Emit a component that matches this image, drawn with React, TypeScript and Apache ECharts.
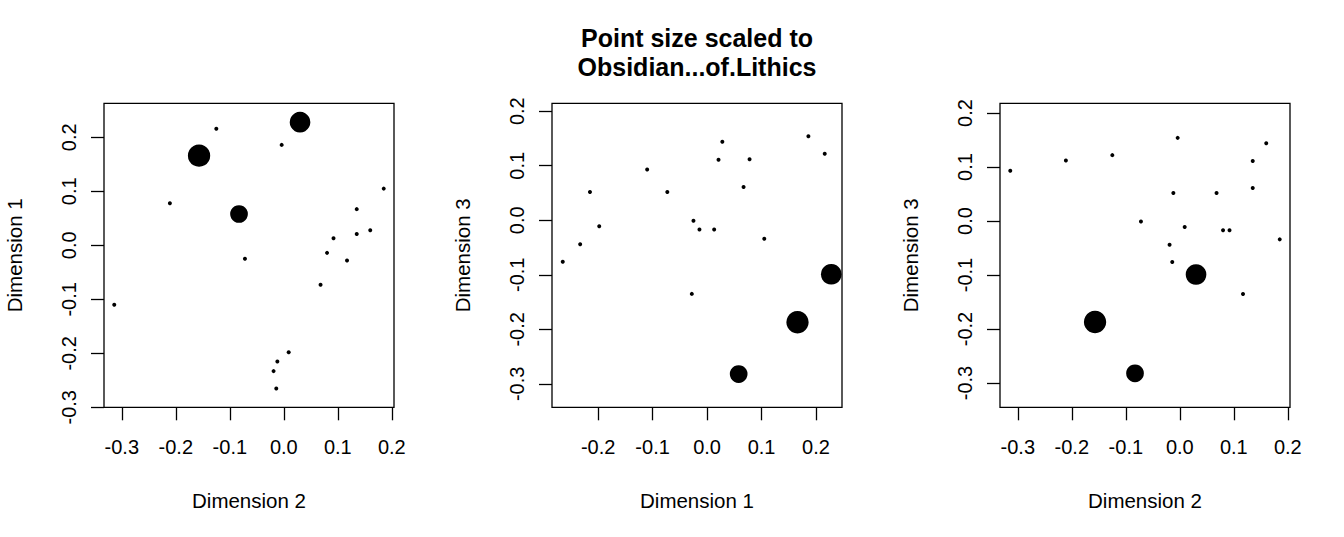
import React, { useEffect, useRef } from "react";
import * as echarts from "echarts";

// Coordinates of the 20 sites on the first three dimensions
const dimension1 = [0.228, 0.216, 0.186, 0.166, 0.105, 0.078, 0.067, 0.058, 0.028, 0.021, 0.013, -0.014, -0.025, -0.028, -0.073, -0.11, -0.198, -0.215, -0.233, -0.265];
const dimension2 = [0.03, -0.125, -0.004, -0.157, 0.185, -0.211, 0.135, -0.083, 0.16, 0.135, 0.092, 0.08, -0.072, 0.117, 0.068, -0.314, 0.009, -0.012, -0.019, -0.014];
const dimension3 = [-0.099, 0.122, 0.154, -0.187, -0.034, 0.112, 0.061, -0.282, 0.144, 0.111, -0.017, -0.017, -0.001, -0.135, 0.052, 0.093, -0.011, 0.052, -0.044, -0.076];
// Relative obsidian share of lithics (scaled 0..1)
const obsidianShare = [0.91, 0, 0, 1.0, 0, 0, 0, 0.75, 0, 0, 0, 0, 0, 0, 0, 0, 0, 0, 0, 0];

const ticksA = [-0.3, -0.2, -0.1, 0, 0.1, 0.2];
const ticksB = [-0.2, -0.1, 0, 0.1, 0.2];

const titleText = "Point size scaled to\nObsidian...of.Lithics";

const FONT = "'Liberation Sans', Arial, Helvetica, sans-serif";

export default function App() {
  const ref = useRef<HTMLDivElement>(null);
  useEffect(() => {
    if (!ref.current) return;
    const chart = echarts.init(ref.current, undefined, { renderer: "svg" });

    const mk = (xs: number[], ys: number[]) => xs.map((x, i) => [x, ys[i], obsidianShare[i]]);

    const grids = [
      { left: 104, top: 103.3, width: 290, height: 304 },
      { left: 552, top: 103.3, width: 290, height: 304 },
      { left: 1000, top: 103.3, width: 290, height: 304 },
    ].map((g) => ({ ...g, show: true, borderColor: "#000", borderWidth: 1.3, backgroundColor: "transparent" }));

    const fmt = (v: number) => (Math.abs(v) < 1e-9 ? "0.0" : v.toFixed(1));

    const axisCommon = (ticks: number[], name: string, isY: boolean) => ({
      type: "value",
      name,
      nameLocation: "middle",
      nameGap: isY ? 79 : 83,
      nameTextStyle: { fontFamily: FONT, fontSize: 20.5, color: "#000" },
      splitLine: { show: false },
      axisLine: { show: false, onZero: false },
      axisTick: { show: true, inside: false, length: 13, lineStyle: { color: "#000", width: 1.3 }, customValues: ticks },
      axisLabel: {
        show: true,
        customValues: ticks,
        formatter: fmt,
        fontFamily: FONT,
        fontSize: 20,
        color: "#000",
        margin: isY ? 25 : 30,
        rotate: isY ? 90 : 0,
      },
    });

    const xAxes = [
      { ...axisCommon(ticksA, "Dimension 2", false), gridIndex: 0, position: "bottom", min: -0.333, max: 0.204 },
      { ...axisCommon(ticksB, "Dimension 1", false), gridIndex: 1, position: "bottom", min: -0.2847, max: 0.2477 },
      { ...axisCommon(ticksA, "Dimension 2", false), gridIndex: 2, position: "bottom", min: -0.333, max: 0.204 },
    ];
    const yAxes = [
      { ...axisCommon(ticksA, "Dimension 1", true), gridIndex: 0, position: "left", min: -0.3, max: 0.263 },
      { ...axisCommon(ticksA, "Dimension 3", true), gridIndex: 1, position: "left", min: -0.343, max: 0.2145 },
      { ...axisCommon(ticksA, "Dimension 3", true), gridIndex: 2, position: "left", min: -0.345, max: 0.218 },
    ];

    const sizeOf = (v: number[]) => 4 + 18.3 * v[2];

    const seriesData = [mk(dimension2, dimension1), mk(dimension1, dimension3), mk(dimension2, dimension3)];

    chart.setOption({
      animation: false,
      textStyle: { fontFamily: FONT },
      grid: grids,
      xAxis: xAxes,
      yAxis: yAxes,
      graphic: [
        {
          type: "text",
          x: 697,
          y: 23,
          style: {
            text: titleText,
            font: `bold 25px ${FONT}`,
            fill: "#000",
            lineHeight: 29.5,
            align: "center",
            verticalAlign: "top",
          },
        },
      ],
      series: seriesData.map((d, i) => ({
        type: "scatter",
        xAxisIndex: i,
        yAxisIndex: i,
        data: d,
        symbol: "circle",
        symbolSize: sizeOf,
        itemStyle: { color: "#000", opacity: 1 },
        silent: true,
        emphasis: { disabled: true },
      })),
    });
    return () => chart.dispose();
  }, []);
  return <div ref={ref} style={{ position: "absolute", left: 0, top: 0, width: 1344, height: 537, background: "#fff" }} />;
}
